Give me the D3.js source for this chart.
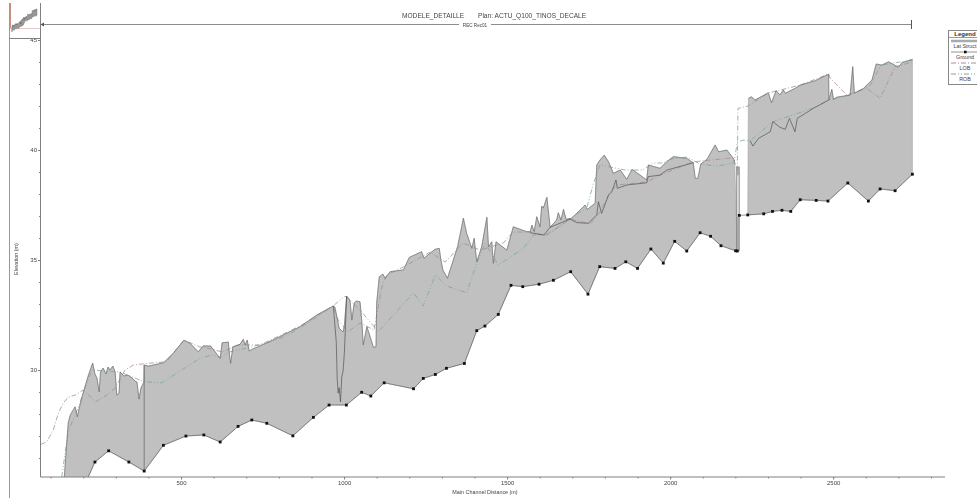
<!DOCTYPE html>
<html>
<head>
<meta charset="utf-8">
<script src="https://cdn.jsdelivr.net/npm/d3@7"></script>
<style>
html, body { margin: 0; padding: 0; background: #fff; overflow: hidden; }
svg { display: block; font-family: "Liberation Sans", Arial, sans-serif; filter: blur(0.45px); }
</style>
</head>
<body>
<div id="profile"></div>
<script>
//channel invert (the dotted ground line)
const bedDist = [190,236,278,340,387,446,515,570,620,675,717,763,843,906,954,1007,1054,1082,1123,1213,1243,1280,1314,1369,1407,1432,1473,1512,1548,1598,1642,1695,1748,1784,1831,1864,1900,1941,1979,2014,2051,2092,2124,2156,2201,2206,2212,2238,2287,2314,2343,2370,2399,2448,2484,2545,2608,2644,2690,2743];
const bedElev = [24.3,25.82,26.33,25.82,25.41,26.58,27.0,27.05,26.73,27.44,27.73,27.58,27.01,27.85,28.41,28.41,28.99,28.82,29.42,29.15,29.62,29.8,30.08,30.3,31.79,32.0,32.53,33.85,33.79,33.9,34.08,34.47,33.45,34.7,34.62,34.92,34.62,35.5,34.86,35.85,35.41,36.24,36.08,35.65,35.42,35.41,37.03,37.05,37.1,37.21,37.26,37.21,37.74,37.71,37.68,38.5,37.68,38.23,38.15,38.9];

//lateral structure crest, first reach
const crestDist1 = [138,142,154,160,175,182,190,198,216,229,236,242,249,253,261,270,276,282,291,298,303,310,313,325,337,350,359,365,371,377,386,387,400,446,476,509,528,553,568,591,620,626,645,648,652,659,681,691,696,703,709,717,763,813,865,916,967,972,985,997,1001,1008,1018,1024,1031,1037,1049,1054,1059,1070,1080,1090,1098,1100,1108,1119,1126,1141,1182,1200,1238,1245,1279,1292,1297,1303,1317,1348,1366,1376,1392,1399,1407,1422,1438,1443,1453,1458,1466,1499,1519,1560,1571,1576,1583,1591,1601,1606,1611,1622,1632,1652,1657,1665,1673,1681,1698,1739,1746,1770,1775,1785,1798,1811,1826,1847,1867,1883,1908,1928,1933,1969,1990,2010,2051,2071,2077,2085,2094,2113,2138,2149,2174,2194,2198];
const crestElev1 = [24.55,25.14,27.59,27.95,28.33,27.88,28.41,28.86,29.77,30.32,29.82,29.64,29.01,29.91,30.09,29.82,30.14,30.0,30.18,29.91,28.86,28.95,29.91,29.73,29.77,29.64,29.5,29.45,28.68,29.18,29.45,30.23,30.18,30.33,30.76,31.36,31.21,30.83,31.1,31.09,30.53,31.24,31.27,30.77,30.3,31.06,31.17,31.4,31.14,31.36,30.86,30.94,31.23,31.59,31.97,32.5,32.91,32.86,31.9,31.73,32.05,33.36,33.18,32.27,33.05,33.14,33.1,32.27,31.14,31.97,31.51,31.03,31.06,33.05,34.24,34.36,34.17,34.47,34.55,35.12,35.38,35.08,35.49,35.53,35.0,34.55,34.17,35.6,36.9,36.21,35.53,35.99,34.92,35.6,36.94,35.6,35.83,34.85,35.83,35.45,36.51,36.29,36.29,36.59,36.29,36.97,36.51,37.45,37.36,37.85,36.49,36.82,37.15,36.82,37.3,36.85,36.9,37.5,37.3,37.58,39.32,39.55,39.77,39.47,38.94,39.09,38.67,39.12,38.86,38.64,39.32,39.17,39.47,39.7,39.62,39.42,38.71,38.71,39.36,39.58,40.23,39.92,40.0,39.62,39.5];

//lateral structure crest, second reach
const crestDist2 = [2240,2250,2260,2301,2311,2325,2337,2347,2353,2383,2399,2445,2486,2487,2496,2501,2511,2552,2560,2565,2593,2619,2632,2649,2670,2700,2711,2743];
const crestElev2 = [42.35,42.42,42.27,42.6,42.15,42.7,42.5,42.73,42.58,42.8,42.95,43.15,43.45,42.27,42.76,42.3,42.4,42.5,43.79,42.58,42.8,43.18,43.91,43.86,44.01,43.76,43.97,44.12];

//darker bank lines seen inside the grey area
const dipDist = [967,976,979,982,985,989,993,997,1001,1008];
const dipElev = [32.91,31.3,29.6,28.95,29.2,28.55,29.7,29.95,30.8,33.36];
const innerDist1 = [1571,1613,1632,1693,1714,1749,1775,1780,1790,1811,1821,1834,1838,1867,1928,1933,1969,1990,2071];
const innerElev1 = [36.24,36.14,36.49,36.86,36.7,36.67,37.05,37.65,37.12,37.95,38.1,38.64,38.26,38.41,38.51,38.79,38.86,39.09,39.42];
const innerDist2 = [2245,2254,2271,2307,2315,2337,2353,2366,2383,2390,2439,2486];
const innerElev2 = [40.42,40.18,40.53,40.83,41.29,41.03,40.94,41.44,40.83,41.44,41.89,42.27];

//left overbank
const lobDist = [70,88,108,124,139,154,175,200,221,239,272,298,328,354,395,456,476,509,558,595,626,675,742,865,966,982,1012,1049,1092,1116,1131,1181,1264,1310,1365,1417,1488,1518,1571,1617,1693,1755,1785,1816,1837,1929,1969,2061,2092,2193,2206,2208,2239,2301,2399,2486,2491,2542,2561,2603,2644,2690,2743];
const lobElev = [26.62,26.74,27.27,28.05,28.5,28.77,28.86,29.09,28.79,28.56,28.86,29.18,30.0,30.23,30.3,30.38,30.77,31.36,31.05,30.95,30.82,31.14,31.14,32.0,32.91,32.27,31.74,32.14,31.82,33.79,34.32,34.68,35.36,34.91,35.77,35.45,35.77,36.27,36.27,36.09,36.86,36.64,37.18,38.09,38.41,38.55,38.86,39.41,39.5,39.64,39.09,41.89,42.0,42.59,42.95,43.45,43.26,42.5,42.59,42.8,42.35,43.79,44.0];

//right overbank
const robDist = [134,154,190,199,227,313,386,441,502,558,594,620,650,702,763,824,896,966,1003,1049,1105,1213,1243,1280,1315,1376,1407,1433,1473,1550,1581,1617,1652,1693,1744,1765,1785,1862,1917,1948,1979,2000,2052,2092,2144,2196,2206,2224,2245,2313,2439,2486,2552,2614,2647,2743];
const robElev = [25.14,27.2,28.5,28.95,30.0,29.91,29.47,29.42,30.0,30.53,30.68,30.58,30.83,31.0,31.24,31.55,32.2,32.91,33.36,32.73,31.74,33.51,32.91,34.32,33.82,33.51,34.86,35.77,34.77,35.53,36.14,36.14,36.44,36.9,37.35,38.49,39.32,39.09,39.09,39.41,39.41,39.59,39.68,39.36,39.27,39.41,40.36,40.45,40.42,41.27,41.91,42.27,42.5,42.95,43.86,44.09];

//culvert box between the reaches
const boxDist = [2204, 2212];
const boxElev = [35.42, 39.23];
const boxGapElev = [36.95, 38.85];

const xMajor = [500,1000,1500,2000,2500];
const xMinor = d3.range(100,2900,100);
const yMajor = [30,35,40,45];
const yMinor = d3.range(26,46,1);
const legendRows = ["Lat Struct","Ground","LOB","ROB"];

const width = 977, height = 498;
const grey = "#c0c0c0", axisCol = "#808080", lobCol = "#a98a9c", robCol = "#7ea69c";

var svg = d3.select("#profile").append("svg")
    .attr("width", width)
    .attr("height", height);

var x = d3.scaleLinear().domain([69, 2843]).range([40.5, 945]);
var y = d3.scaleLinear().domain([25.14, 45]).range([477, 40]);

//mini map scales, top left corner
var xm = d3.scaleLinear().domain([69, 2743]).range([11, 37]);
var ym = d3.scaleLinear().domain([25, 44]).range([31, 9]);

function pts(ds, es) { return ds.map(function(d, i) { return [d, es[i]]; }); }

var bedAll = pts(bedDist, bedElev);
var bed1 = bedAll.filter(function(p) { return p[0] <= 2206; });
var bed2 = bedAll.filter(function(p) { return p[0] >= 2238; });
var crest1 = pts(crestDist1, crestElev1);
var crest2 = pts(crestDist2, crestElev2);

var line = d3.line().x(function(p) { return x(p[0]); }).y(function(p) { return y(p[1]); });
var lineM = d3.line().x(function(p) { return xm(p[0]); }).y(function(p) { return ym(p[1]); });

svg.append("clipPath").attr("id", "plot")
    .append("rect").attr("x", 40.5).attr("y", 20).attr("width", 905).attr("height", 457);

var g = svg.append("g").attr("clip-path", "url(#plot)");

//grey areas between crest and invert
[[crest1, bed1], [crest2, bed2]].forEach(function(r) {
    g.append("path")
        .attr("d", line(r[0].concat(r[1].slice().reverse())) + "Z")
        .attr("fill", grey)
        .attr("stroke", "#999")
        .attr("stroke-width", 0.5);
});

//culvert box
g.append("rect")
    .attr("x", x(boxDist[0])).attr("y", y(boxElev[1]))
    .attr("width", x(boxDist[1]) - x(boxDist[0]))
    .attr("height", y(boxElev[0]) - y(boxElev[1]))
    .attr("fill", "#aaa").attr("stroke", "#777").attr("stroke-width", 0.6);
g.append("rect")
    .attr("x", x(boxDist[0]) + 0.8).attr("y", y(boxGapElev[1]))
    .attr("width", x(boxDist[1]) - x(boxDist[0]) - 1.6)
    .attr("height", y(boxGapElev[0]) - y(boxGapElev[1]))
    .attr("fill", "#fff");

//overbank lines
g.append("path").attr("d", line(pts(lobDist, lobElev)))
    .attr("fill", "none").attr("stroke", lobCol).attr("stroke-width", 0.8)
    .attr("stroke-dasharray", "5,2,1,2");
g.append("path").attr("d", line(pts(robDist, robElev)))
    .attr("fill", "none").attr("stroke", robCol).attr("stroke-width", 0.8)
    .attr("stroke-dasharray", "5,2,1,2,1,2");

//crest and inner lines
[crest1, crest2].forEach(function(c) {
    g.append("path").attr("d", line(c))
        .attr("fill", "none").attr("stroke", "#666").attr("stroke-width", 0.55);
});
[pts(dipDist, dipElev), pts(innerDist1, innerElev1), pts(innerDist2, innerElev2)].forEach(function(c) {
    g.append("path").attr("d", line(c))
        .attr("fill", "none").attr("stroke", "#4a4a4a").attr("stroke-width", 0.65);
});

//wall at the start of the second stretch of reach one
g.append("path").attr("d", line([[387, 25.41], [387, 30.23]]))
    .attr("fill", "none").attr("stroke", "#777").attr("stroke-width", 0.9);

//invert line with square markers
g.append("path").attr("d", line(bed1))
    .attr("fill", "none").attr("stroke", "#555").attr("stroke-width", 0.6);
g.append("path").attr("d", line([bedAll[46]].concat(bed2)))
    .attr("fill", "none").attr("stroke", "#555").attr("stroke-width", 0.6);
g.selectAll("rect.dot")
    .data(bedAll)
    .enter()
    .append("rect")
        .attr("class", "dot")
        .attr("x", function(p) { return x(p[0]) - 1.4; })
        .attr("y", function(p) { return y(p[1]) - 1.4; })
        .attr("width", 2.8)
        .attr("height", 2.8)
        .attr("fill", "#111");

//y axis, minor ticks then labelled ones
svg.append("g").attr("transform", "translate(40.5,0)")
    .call(d3.axisLeft(y).tickValues(yMinor).tickSize(1.5).tickFormat(""))
    .call(function(a) { a.select(".domain").remove(); })
    .selectAll("line").attr("stroke", axisCol);
var ya = svg.append("g").attr("transform", "translate(40.5,0)")
    .call(d3.axisLeft(y).tickValues(yMajor).tickSize(2.5).tickPadding(1).tickFormat(d3.format("d")));
ya.select(".domain").remove();
ya.selectAll("line").attr("stroke", axisCol);
ya.selectAll("text").attr("font-size", 6).attr("font-family", "Liberation Sans").attr("fill", "#444");

//x axis
svg.append("g").attr("transform", "translate(0,477)")
    .call(d3.axisBottom(x).tickValues(xMinor).tickSize(1.5).tickFormat(""))
    .call(function(a) { a.select(".domain").remove(); })
    .selectAll("line").attr("stroke", axisCol);
var xa = svg.append("g").attr("transform", "translate(0,477)")
    .call(d3.axisBottom(x).tickValues(xMajor).tickSize(2.5).tickPadding(1.5).tickFormat(d3.format("d")));
xa.select(".domain").remove();
xa.selectAll("line").attr("stroke", axisCol);
xa.selectAll("text").attr("font-size", 6).attr("font-family", "Liberation Sans").attr("fill", "#444");

//axis lines and outer frame lines
svg.append("line").attr("x1", 40.5).attr("x2", 40.5).attr("y1", 3).attr("y2", 477)
    .attr("stroke", axisCol);
svg.append("line").attr("x1", 40.5).attr("x2", 945).attr("y1", 477).attr("y2", 477)
    .attr("stroke", axisCol);
svg.append("line").attr("x1", 9.5).attr("x2", 9.5).attr("y1", 3).attr("y2", 498)
    .attr("stroke", "#999");
svg.append("line").attr("x1", 9.5).attr("x2", 40.5).attr("y1", 38.5).attr("y2", 38.5)
    .attr("stroke", "#808080");

//mini map
svg.append("line").attr("x1", 10).attr("x2", 40).attr("y1", 28.5).attr("y2", 28.5)
    .attr("stroke", "#e8c8c8");
svg.append("line").attr("x1", 10.5).attr("x2", 10.5).attr("y1", 3).attr("y2", 28)
    .attr("stroke", "#c89080");
[[crest1, bed1], [crest2, bed2]].forEach(function(r) {
    svg.append("path")
        .attr("d", lineM(r[0].concat(r[1].slice().reverse())) + "Z")
        .attr("fill", "#999").attr("stroke", "#666").attr("stroke-width", 0.4);
});

//reach line along the top
svg.append("line").attr("x1", 40.5).attr("x2", 911.5).attr("y1", 24.5).attr("y2", 24.5)
    .attr("stroke", "#8c8c8c");
svg.append("line").attr("x1", 911.5).attr("x2", 911.5).attr("y1", 20).attr("y2", 29)
    .attr("stroke", "#555");
svg.append("rect").attr("x", 459).attr("y", 21).attr("width", 32).attr("height", 7).attr("fill", "#fff");
svg.append("text").attr("x", 475).attr("y", 26.7).attr("text-anchor", "middle")
    .attr("font-size", 4.6).attr("fill", "#444").text("REC Rec01");
svg.append("path").attr("d", "M40.5,24.5L44,22.5V26.5Z").attr("fill", "#555");

//titles
svg.append("text").attr("x", 402).attr("y", 17.5)
    .attr("font-size", 6.6).attr("fill", "#444").text("MODELE_DETAILLE");
svg.append("text").attr("x", 478).attr("y", 17.5)
    .attr("font-size", 6.6).attr("fill", "#444").text("Plan: ACTU_Q100_TINOS_DECALE");
svg.append("text").attr("x", 485).attr("y", 494).attr("text-anchor", "middle")
    .attr("font-size", 5.4).attr("fill", "#444").text("Main Channel Distance (m)");
svg.append("text").attr("transform", "translate(17.5,259) rotate(-90)").attr("text-anchor", "middle")
    .attr("font-size", 5.4).attr("fill", "#444").text("Elevation (m)");

//legend
var lg = svg.append("g");
lg.append("rect").attr("x", 948.5).attr("y", 30.5).attr("width", 40).attr("height", 54)
    .attr("fill", "#fff").attr("stroke", "#888");
lg.append("text").attr("x", 965).attr("y", 36).attr("text-anchor", "middle")
    .attr("font-size", 6).attr("font-weight", "bold").attr("fill", "#333").text("Legend");
lg.append("line").attr("x1", 949).attr("x2", 977).attr("y1", 37.5).attr("y2", 37.5).attr("stroke", "#999");
lg.append("line").attr("x1", 951).attr("x2", 977).attr("y1", 41).attr("y2", 41)
    .attr("stroke", "#aaa").attr("stroke-width", 2.5);
lg.append("line").attr("x1", 951).attr("x2", 977).attr("y1", 52).attr("y2", 52).attr("stroke", "#666").attr("stroke-width", 0.7);
lg.append("rect").attr("x", 964).attr("y", 50.7).attr("width", 2.6).attr("height", 2.6).attr("fill", "#111");
lg.append("line").attr("x1", 951).attr("x2", 977).attr("y1", 63).attr("y2", 63)
    .attr("stroke", lobCol).attr("stroke-dasharray", "5,2,1,2");
lg.append("line").attr("x1", 951).attr("x2", 977).attr("y1", 74).attr("y2", 74)
    .attr("stroke", robCol).attr("stroke-dasharray", "5,2,1,2,1,2");
lg.selectAll("text.row")
    .data(legendRows)
    .enter()
    .append("text")
        .attr("class", "row")
        .attr("x", 965)
        .attr("y", function(d, i) { return 48 + i * 10.9; })
        .attr("text-anchor", "middle")
        .attr("font-size", 5.4)
        .attr("fill", "#444")
        .text(function(d) { return d; });
</script>
</body>
</html>
